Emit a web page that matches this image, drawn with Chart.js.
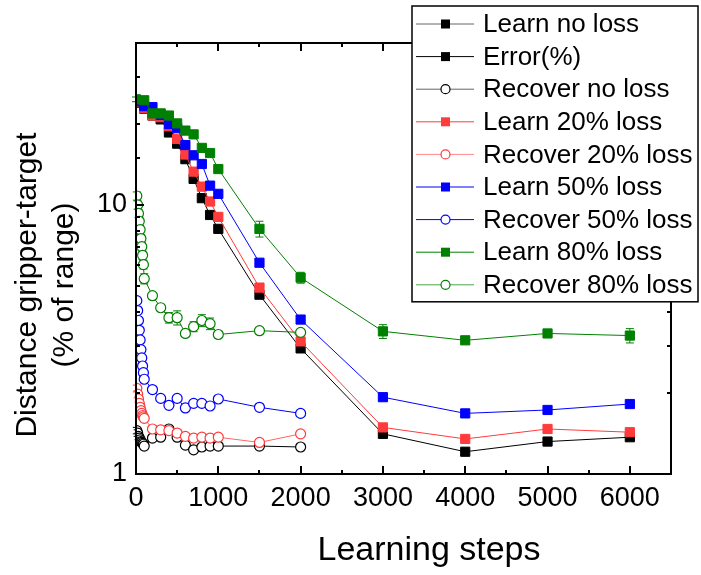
<!DOCTYPE html>
<html>
<head>
<meta charset="utf-8">
<script src="https://cdn.jsdelivr.net/npm/chart.js@4/dist/chart.umd.min.js"></script>
<style>
  html, body { margin: 0; padding: 0; background: #fff; }
  canvas { display: block; }
</style>
</head>
<body>
<canvas id="chart" width="701" height="575"></canvas>
<script>
// Learning steps at which each run was sampled
const learnSteps = [0, 100, 200, 300, 400, 500, 600, 700, 800, 900, 1000, 1500, 2000, 3000, 4000, 5000, 6000];
const recoverSteps = [10, 20, 30, 40, 50, 60, 70, 80, 90, 100, 200, 300, 400, 500, 600, 700, 800, 900, 1000, 1500, 2000];

// Distance gripper-target (% of range)
const learnNoLoss = [24.0, 22.8, 21.5, 20.8, 18.6, 16.9, 14.8, 12.5, 10.6, 9.18, 8.15, 4.64, 2.93, 1.41, 1.21, 1.32, 1.37];
const learn20 = [24.2, 22.9, 21.5, 21.2, 19.6, 17.6, 15.4, 13.3, 11.7, 10.3, 9.03, 4.93, 3.11, 1.49, 1.35, 1.47, 1.43];
const learn50 = [24.3, 23.3, 23.1, 21.6, 20.0, 19.3, 16.7, 15.3, 14.2, 11.8, 11.0, 6.10, 3.75, 1.93, 1.68, 1.73, 1.82];
const learn80 = [24.7, 24.5, 21.9, 21.9, 21.5, 20.1, 18.9, 18.3, 16.3, 15.6, 13.6, 8.15, 5.37, 3.39, 3.14, 3.33, 3.27];

const recoverNoLoss = [1.45, 1.42, 1.38, 1.36, 1.34, 1.32, 1.31, 1.30, 1.29, 1.27, 1.36, 1.37, 1.47, 1.37, 1.28, 1.23, 1.26, 1.27, 1.27, 1.27, 1.26];
const recover20 = [2.08, 1.98, 1.90, 1.83, 1.77, 1.72, 1.68, 1.65, 1.63, 1.61, 1.47, 1.46, 1.45, 1.42, 1.38, 1.36, 1.37, 1.36, 1.37, 1.31, 1.41];
const recover50 = [4.41, 4.05, 3.72, 3.42, 3.15, 2.90, 2.70, 2.52, 2.38, 2.25, 2.06, 1.91, 1.80, 1.91, 1.76, 1.83, 1.83, 1.79, 1.90, 1.77, 1.68];
const recover80 = [10.8, 10.0, 9.3, 8.7, 8.1, 7.5, 7.0, 6.5, 6.0, 5.32, 4.60, 4.15, 3.81, 3.81, 3.33, 3.53, 3.72, 3.62, 3.30, 3.41, 3.36];

// Standard errors (same units)
const learn80Err = [0.5, 0.5, 0.4, 0.4, 0.4, 0.4, 0.4, 0.4, 0.4, 0.4, 0.4, 0.55, 0.25, 0.2, 0.06, 0.08, 0.2];
const recoverNoLossErr = [0.04, 0.04, 0.04, 0.04, 0.04, 0.03, 0.03, 0.03, 0.03, 0.03, 0.02, 0.02, 0.03, 0.02, 0.02, 0.02, 0.02, 0.02, 0.02, 0.02, 0.02];
const recover20Err = [0.06, 0.06, 0.05, 0.05, 0.05, 0.05, 0.05, 0.04, 0.04, 0.04, 0.03, 0.03, 0.03, 0.03, 0.03, 0.03, 0.03, 0.03, 0.03, 0.02, 0.03];
const recover80Err = [0.38, 0.35, 0.33, 0.3, 0.29, 0.27, 0.25, 0.24, 0.22, 0.23, 0.12, 0.11, 0.17, 0.23, 0.09, 0.15, 0.19, 0.18, 0.09, 0.09, 0.06];

// x axis tick labels every 1000, minor ticks every 500; y labels only on decades
const xLabelEvery = 1000;
const yLabels = [1, 10];

const FONT = "'Liberation Sans', Arial, sans-serif";
const BLACK = '#000000';
const RED = '#ff3b3b';
const BLUE = '#0000ff';
const GREEN = '#008000';

function pts(xs, ys) {
  return xs.map((x, i) => ({ x: x, y: ys[i] }));
}

function learnSet(label, ys, color, order, errors) {
  return {
    label: label,
    data: pts(learnSteps, ys),
    borderColor: color,
    backgroundColor: color,
    borderWidth: 1,
    pointStyle: 'rect',
    pointRadius: 6.5,
    pointBorderWidth: 1,
    pointBackgroundColor: color,
    pointBorderColor: color,
    order: order,
    errors: errors
  };
}

function recoverSet(label, ys, color, lineColor, order, errors) {
  return {
    label: label,
    data: pts(recoverSteps, ys),
    borderColor: lineColor,
    backgroundColor: '#ffffff',
    borderWidth: 1,
    pointStyle: 'circle',
    pointRadius: 5,
    pointBorderWidth: 1.2,
    pointBackgroundColor: '#ffffff',
    pointBorderColor: color,
    markerColor: color,
    order: order,
    errors: errors
  };
}

const datasets = [
  Object.assign(learnSet('Learn no loss', learnNoLoss, BLACK, 7), { legendLine: '#666666' }),
  Object.assign(learnSet('Error(%)', [], BLACK, 9), { data: [] }),
  Object.assign(recoverSet('Recover no loss', recoverNoLoss, BLACK, BLACK, 8, recoverNoLossErr), { legendLine: '#666666' }),
  learnSet('Learn 20% loss', learn20, RED, 5),
  Object.assign(recoverSet('Recover 20% loss', recover20, RED, '#ff6666', 6, recover20Err), { legendLine: '#ff8888' }),
  learnSet('Learn 50% loss', learn50, BLUE, 3),
  recoverSet('Recover 50% loss', recover50, BLUE, BLUE, 4),
  learnSet('Learn 80% loss', learn80, GREEN, 1, learn80Err),
  Object.assign(recoverSet('Recover 80% loss', recover80, GREEN, GREEN, 2, recover80Err), { legendLine: '#4da64d' })
];

// vertical error bars, drawn under the markers
const errorBars = {
  id: 'errorBars',
  beforeDatasetsDraw(chart) {
    const ctx = chart.ctx;
    const y = chart.scales.y;
    chart.data.datasets.forEach((ds, i) => {
      if (!ds.errors) return;
      const meta = chart.getDatasetMeta(i);
      ctx.save();
      ctx.strokeStyle = ds.markerColor || ds.borderColor;
      ctx.lineWidth = 1;
      meta.data.forEach((pt, j) => {
        const e = ds.errors[j];
        if (!e) return;
        const v = ds.data[j].y;
        const top = y.getPixelForValue(v + e);
        const bot = y.getPixelForValue(v - e);
        ctx.beginPath();
        ctx.moveTo(pt.x, top); ctx.lineTo(pt.x, bot);
        ctx.moveTo(pt.x - 4, top); ctx.lineTo(pt.x + 4, top);
        ctx.moveTo(pt.x - 4, bot); ctx.lineTo(pt.x + 4, bot);
        ctx.stroke();
      });
      ctx.restore();
    });
  }
};

// closed frame with inward ticks on all four sides
const frameTicks = {
  id: 'frameTicks',
  afterDatasetsDraw(chart) {
    const ctx = chart.ctx;
    const a = chart.chartArea;
    const x = chart.scales.x;
    const y = chart.scales.y;
    ctx.save();
    ctx.strokeStyle = '#000';
    ctx.lineWidth = 2;
    ctx.beginPath();
    x.ticks.forEach(t => {
      const px = Math.round(x.getPixelForValue(t.value));
      const len = t.value % xLabelEvery === 0 ? 8 : 4;
      ctx.moveTo(px, a.bottom); ctx.lineTo(px, a.bottom - len);
      ctx.moveTo(px, a.top); ctx.lineTo(px, a.top + len);
    });
    y.ticks.forEach(t => {
      const py = Math.round(y.getPixelForValue(t.value));
      const len = yLabels.includes(t.value) ? 8 : 4;
      ctx.moveTo(a.left, py); ctx.lineTo(a.left + len, py);
      ctx.moveTo(a.right, py); ctx.lineTo(a.right - len, py);
    });
    ctx.stroke();
    ctx.strokeRect(a.left, a.top, a.right - a.left, a.bottom - a.top);
    ctx.restore();
  }
};

// axis titles
const axisTitles = {
  id: 'axisTitles',
  afterDraw(chart) {
    const ctx = chart.ctx;
    ctx.save();
    ctx.fillStyle = '#000';
    ctx.textAlign = 'center';
    ctx.textBaseline = 'middle';
    ctx.font = '30px ' + FONT;
    ctx.translate(28, 285);
    ctx.rotate(-Math.PI / 2);
    ctx.fillText('Distance gripper-target', 0, 0);
    ctx.fillText('(% of range)', 0, 37);
    ctx.restore();
    ctx.save();
    ctx.fillStyle = '#000';
    ctx.textAlign = 'center';
    ctx.textBaseline = 'middle';
    ctx.font = '34px ' + FONT;
    ctx.fillText('Learning steps', 429, 551);
    ctx.restore();
  }
};

// boxed legend sitting over the top right of the plot
const boxLegend = {
  id: 'boxLegend',
  afterDraw(chart) {
    const ctx = chart.ctx;
    const left = 412, top = 6, right = 698, rowH = 32.6;
    const sets = chart.data.datasets;
    const bottom = top + 18 + rowH * (sets.length - 1) + 17;
    ctx.save();
    ctx.fillStyle = '#fff';
    ctx.fillRect(left, top, right - left, bottom - top);
    ctx.strokeStyle = '#000';
    ctx.lineWidth = 1.5;
    ctx.strokeRect(left, top, right - left, bottom - top);
    ctx.font = '26px ' + FONT;
    ctx.textBaseline = 'middle';
    ctx.textAlign = 'left';
    sets.forEach((ds, i) => {
      const cy = top + 18 + rowH * i;
      ctx.strokeStyle = ds.legendLine || ds.borderColor;
      ctx.lineWidth = 1;
      ctx.beginPath();
      ctx.moveTo(416, cy); ctx.lineTo(474, cy);
      ctx.stroke();
      const mc = ds.markerColor || ds.borderColor;
      if (ds.pointStyle === 'rect') {
        ctx.fillStyle = mc;
        ctx.fillRect(441, cy - 4.5, 9, 9);
      } else {
        ctx.fillStyle = '#fff';
        ctx.strokeStyle = mc;
        ctx.lineWidth = 1.2;
        ctx.beginPath();
        ctx.arc(445.5, cy, 4.5, 0, Math.PI * 2);
        ctx.fill();
        ctx.stroke();
      }
      ctx.fillStyle = '#000';
      ctx.fillText(ds.label, 483, cy + 1);
    });
    ctx.restore();
  }
};

new Chart(document.getElementById('chart'), {
  type: 'line',
  data: { datasets: datasets },
  plugins: [errorBars, frameTicks, axisTitles, boxLegend],
  options: {
    responsive: false,
    animation: false,
    devicePixelRatio: 1,
    layout: { padding: { top: 43, right: 30, left: 0, bottom: 0 } },
    elements: { line: { tension: 0 } },
    plugins: {
      legend: { display: false },
      tooltip: { enabled: false }
    },
    scales: {
      x: {
        type: 'linear',
        min: 0,
        max: 6500,
        afterFit: s => { s.height = 101; },
        grid: { display: false, drawTicks: false },
        border: { display: false },
        ticks: {
          stepSize: 500,
          autoSkip: false,
          maxRotation: 0,
          padding: 8,
          color: '#000',
          font: { family: FONT, size: 27 },
          callback: v => (v % xLabelEvery === 0 && v <= 6000 ? String(v) : '')
        }
      },
      y: {
        type: 'logarithmic',
        min: 1,
        max: 40,
        afterFit: s => { s.width = 136; },
        grid: { display: false, drawTicks: false },
        border: { display: false },
        ticks: {
          autoSkip: false,
          padding: 9,
          color: '#000',
          font: { family: FONT, size: 27 },
          callback: v => (yLabels.includes(v) ? String(v) : '')
        }
      }
    }
  }
});
</script>
</body>
</html>
